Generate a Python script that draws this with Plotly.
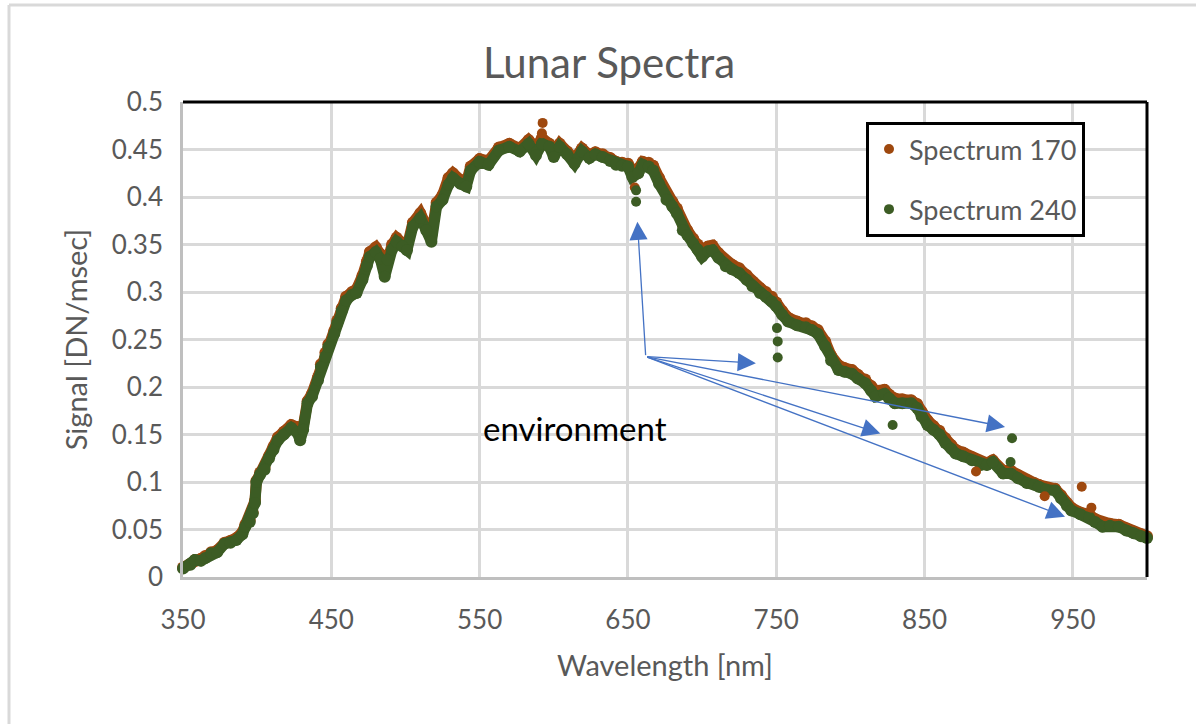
import plotly.graph_objects as go

# ---------------- data ----------------
wavelength_nm = [350, 355, 358, 362, 365, 369, 373, 378, 382, 386, 390, 392, 395, 397, 398.5, 399.5,
                 402, 405, 408, 411, 414, 418, 423, 427, 429, 431, 434, 437, 441, 443, 446, 448,
                 452, 454, 457, 460, 464, 467, 471, 474, 476, 480, 483, 486, 488, 491, 494, 498,
                 501, 505, 510, 514, 517.5, 521, 525, 529, 532, 537, 541, 544, 550, 556, 563, 570,
                 577, 583, 588, 592, 597, 600, 604, 609, 614, 619, 624, 628, 633, 638, 642, 646,
                 650, 653, 657, 660, 664, 667, 671, 676, 680, 683, 687, 690, 694, 697, 700, 704,
                 707, 711, 716, 720, 725, 730, 734, 739, 743, 747, 750, 754, 758, 764, 770, 774,
                 778, 783, 787, 792, 796, 801, 805, 810, 814, 817, 823, 826, 830, 835, 841, 845,
                 848, 852, 856, 860, 864, 868, 871, 876, 882, 888, 892, 896, 903, 908, 913, 919,
                 924, 927, 932, 938, 942, 946, 949, 955, 961, 965, 970, 975, 981, 986, 991, 996, 1000]

spectrum_240 = [.009, .013, .018, .017, .020, .025, .026, .035, .036, .039, .045, .053, .058, .067, .078, .100,
                .108, .113, .125, .134, .144, .150, .157, .152, .144, .155, .183, .190, .207, .221, .232, .242,
                .256, .267, .280, .291, .297, .299, .313, .328, .337, .342, .335, .316, .334, .345, .353, .348,
                .344, .369, .378, .365, .353, .390, .397, .413, .420, .414, .411, .428, .437, .434, .449, .453,
                .448, .456, .444, .456, .453, .442, .453, .445, .435, .448, .441, .445, .442, .438, .434, .433,
                .432, .421, .425, .434, .432, .428, .414, .397, .390, .383, .365, .360, .351, .345, .337, .343,
                .344, .336, .327, .324, .320, .313, .306, .299, .295, .290, .285, .276, .269, .265, .263, .260,
                .256, .243, .228, .218, .216, .214, .209, .204, .196, .190, .193, .188, .183, .183, .183, .178,
                .169, .160, .155, .150, .141, .135, .130, .127, .123, .118, .118, .121, .109, .109, .104, .099,
                .097, .095, .092, .091, .083, .075, .070, .066, .063, .058, .053, .054, .053, .049, .046, .043, .041]

spectrum_170 = [.010, .014, .018, .019, .022, .026, .028, .036, .038, .041, .047, .055, .060, .068, .080, .101,
                .110, .115, .127, .137, .147, .153, .160, .158, .150, .158, .185, .193, .210, .224, .236, .245,
                .259, .270, .283, .295, .300, .303, .317, .332, .342, .347, .340, .322, .338, .350, .357, .351,
                .347, .373, .383, .370, .360, .394, .402, .420, .425, .418, .415, .432, .440, .438, .452, .456,
                .451, .460, .452, .462, .456, .446, .456, .448, .440, .451, .444, .447, .445, .441, .437, .436,
                .435, .428, .430, .437, .436, .433, .420, .403, .395, .388, .371, .365, .356, .350, .342, .348,
                .349, .341, .332, .329, .325, .318, .311, .304, .300, .295, .289, .280, .273, .269, .267, .264,
                .260, .248, .233, .223, .220, .218, .213, .208, .201, .196, .197, .192, .188, .187, .186, .182,
                .174, .165, .159, .154, .146, .139, .134, .131, .126, .121, .120, .123, .112, .112, .107, .102,
                .099, .097, .094, .093, .086, .078, .073, .068, .066, .061, .057, .056, .055, .051, .048, .045, .043]

# isolated points lying away from the main band
spectrum_170_extra_nm = [592.5, 592, 654.6, 884.7, 931, 956, 962.5]
spectrum_170_extra = [0.478, 0.467, 0.410, 0.111, 0.085, 0.095, 0.073]
spectrum_240_extra_nm = [655.5, 655.5, 750.5, 751, 751, 828.5, 909, 908]
spectrum_240_extra = [0.407, 0.395, 0.262, 0.248, 0.231, 0.160, 0.146, 0.121]

series_names = ["Spectrum 170", "Spectrum 240"]
x_tick_values = [350, 450, 550, 650, 750, 850, 950]
y_tick_values = [0, 0.05, 0.1, 0.15, 0.2, 0.25, 0.3, 0.35, 0.4, 0.45, 0.5]
y_tick_labels = ["0", "0.05", "0.1", "0.15", "0.2", "0.25", "0.3", "0.35", "0.4", "0.45", "0.5"]

# arrows: common tail and the tips (wavelength, signal)
arrow_tail = (662, 0.232)
arrow_tips = [(656.4, 0.374), (736.3, 0.225), (820.2, 0.151), (904.3, 0.158), (944.7, 0.0635)]
note_text = "environment"
note_pos = (614.5, 0.157)

# ---------------- styling ----------------
BROWN = "#9E480E"
GREEN = "#3C5C24"
BLUE = "#4472C4"
GRAY_TXT = "#595959"
GRID = "#D9D9D9"
FONT = "Lato"

fig = go.Figure()

# main bands (drawn as thick line + dots)
fig.add_trace(go.Scatter(x=wavelength_nm, y=spectrum_170, mode="lines+markers",
                         line=dict(color=BROWN, width=11), marker=dict(color=BROWN, size=12),
                         showlegend=False, cliponaxis=False, hoverinfo="skip"))
fig.add_trace(go.Scatter(x=wavelength_nm, y=spectrum_240, mode="lines+markers",
                         line=dict(color=GREEN, width=11), marker=dict(color=GREEN, size=12),
                         showlegend=False, cliponaxis=False, hoverinfo="skip"))
# isolated points + legend entries
fig.add_trace(go.Scatter(x=spectrum_170_extra_nm, y=spectrum_170_extra, mode="markers",
                         marker=dict(color=BROWN, size=10), name=series_names[0],
                         legendgroup="a", cliponaxis=False))
fig.add_trace(go.Scatter(x=spectrum_240_extra_nm, y=spectrum_240_extra, mode="markers",
                         marker=dict(color=GREEN, size=10), name=series_names[1],
                         legendgroup="b", cliponaxis=False))

annotations = []
for tx, ty in arrow_tips:
    annotations.append(dict(x=tx, y=ty, ax=arrow_tail[0], ay=arrow_tail[1], xref="x", yref="y",
                            axref="x", ayref="y", text="", showarrow=True, arrowhead=2,
                            arrowsize=2.8, arrowwidth=1.3, arrowcolor=BLUE, standoff=0))
annotations.append(dict(x=note_pos[0], y=note_pos[1], xref="x", yref="y", text=note_text,
                        showarrow=False, font=dict(family=FONT, size=33, color="#000000")))

# paper-coordinate helpers for frame lines
L, R, T, B = 183, 1147, 102, 577
def px_x(p):
    return (p - L) / (R - L)
def px_y(p):
    return (B - p) / (B - T)

shapes = [
    # outer chart border
    dict(type="line", xref="paper", yref="paper", x0=px_x(9), x1=px_x(9), y0=px_y(5), y1=px_y(730),
         line=dict(color=GRID, width=3), layer="below"),
    dict(type="line", xref="paper", yref="paper", x0=px_x(9), x1=px_x(1300), y0=px_y(5), y1=px_y(5),
         line=dict(color=GRID, width=3), layer="below"),
    # black frame top/right
    dict(type="line", xref="paper", yref="paper", x0=0, x1=1, y0=1, y1=1,
         line=dict(color="#000000", width=3)),
    dict(type="line", xref="paper", yref="paper", x0=1, x1=1, y0=0, y1=1,
         line=dict(color="#000000", width=3)),
]

fig.update_layout(
    width=1196, height=724,
    margin=dict(l=L, r=1196 - R, t=T, b=724 - B),
    paper_bgcolor="white", plot_bgcolor="white",
    font=dict(family=FONT, color=GRAY_TXT),
    title=dict(text="Lunar Spectra", x=609 / 1196, xref="container", xanchor="center",
               y=1 - 63 / 724, yref="container", yanchor="middle",
               font=dict(family=FONT, size=42, color=GRAY_TXT)),
    xaxis=dict(range=[350, 1000], tickvals=x_tick_values, showgrid=True, gridcolor=GRID, gridwidth=2.5,
               showline=True, linecolor="#BFBFBF", linewidth=2.5, zeroline=False, ticks="",
               tickfont=dict(family=FONT, size=26, color=GRAY_TXT), ticklabelstandoff=18,
               title=dict(text="Wavelength [nm]", font=dict(family=FONT, size=29, color=GRAY_TXT), standoff=22)),
    yaxis=dict(range=[0, 0.5], tickvals=y_tick_values, ticktext=y_tick_labels, showgrid=True,
               gridcolor=GRID, gridwidth=2.5, showline=True, linecolor="#BFBFBF", linewidth=2.5,
               zeroline=False, ticks="", tickfont=dict(family=FONT, size=26, color=GRAY_TXT),
               ticklabelstandoff=12,
               title=dict(text="Signal [DN/msec]", font=dict(family=FONT, size=29, color=GRAY_TXT), standoff=16)),
    legend=dict(x=px_x(866), y=px_y(122), xanchor="left", yanchor="top", bgcolor="white",
                bordercolor="#000000", borderwidth=3, font=dict(family=FONT, size=27, color=GRAY_TXT),
                traceorder="grouped", tracegroupgap=22, itemwidth=30),
    annotations=annotations,
    shapes=shapes,
)

fig.write_html("out.html")
